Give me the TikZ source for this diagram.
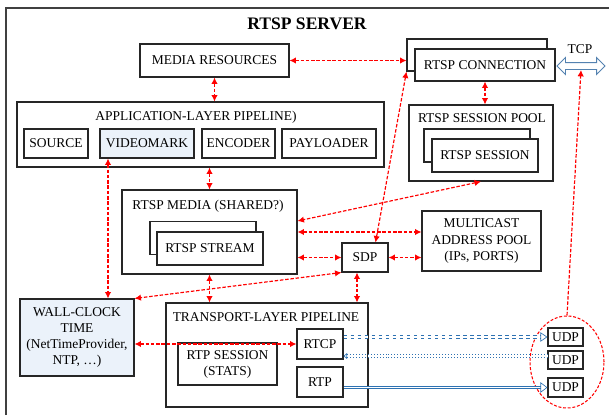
\documentclass[tikz,border=0pt]{standalone}
\usepackage{fontspec}
\setmainfont{Liberation Serif}
\usetikzlibrary{arrows.meta,shapes.geometric,shapes.arrows}
\definecolor{linkblue}{RGB}{46,114,178}
\definecolor{tcpblue}{RGB}{84,130,176}
\definecolor{paleblue}{RGB}{235,242,250}
\begin{document}
\begin{tikzpicture}[x=0.03cm,y=-0.03cm,
    font=\fontsize{11.5}{13.7}\selectfont,
    >={Latex[length=5.5pt,width=5.5pt]},
    box/.style={draw=black!85,line width=0.9pt,inner sep=0pt,align=center,fill=white},
    redlink/.style={red,line width=1pt,dash pattern=on 3pt off 1.5pt,<->},
    bluelink/.style={linkblue,line width=0.55pt,double=white,double distance=1.6pt}]
    \useasboundingbox (0,0) rectangle (609,415);
    \draw[black!75,line width=1.1pt] (6,415) |- (609,8);
    \node[font=\fontsize{15}{18}\selectfont\bfseries] (title) at (307,24) {RTSP SERVER};
    %
    \node[box,minimum width=4.47cm,minimum height=0.99cm] (mres) at (214.5,60.5) {MEDIA RESOURCES};
    \node[box,minimum width=4.2cm,minimum height=0.96cm] (connb) at (477,55) {};
    \node[box,minimum width=4.2cm,minimum height=0.96cm] (conn) at (485,65) {RTSP CONNECTION};
    \node (tcplabel) at (580,49) {TCP};
    \node[double arrow,draw=tcpblue,line width=0.8pt,inner sep=0.09cm,minimum height=1.44cm,
      double arrow head extend=0.15cm,double arrow tip angle=90] (tcp) at (581,66) {};
    %
    \node[box,minimum width=4.32cm,minimum height=2.28cm] (pool) at (481,143) {};
    \node (poollabel) at (482,118) {RTSP SESSION POOL};
    \node[box,minimum width=3.18cm,minimum height=0.99cm] (sessb) at (477,145.5) {};
    \node[box,minimum width=3.18cm,minimum height=0.99cm] (sess) at (485,155.5) {RTSP SESSION};
    %
    \node[box,minimum width=11.01cm,minimum height=1.95cm] (app) at (200.5,134.5) {};
    \node (applabel) at (196,117) {APPLICATION-LAYER PIPELINE)};
    \node[box,minimum width=1.92cm,minimum height=0.87cm] (source) at (56,143.5) {SOURCE};
    \node[box,fill=paleblue,minimum width=2.82cm,minimum height=0.87cm] (videomark) at (147,143.5) {VIDEOMARK};
    \node[box,minimum width=2.19cm,minimum height=0.87cm] (encoder) at (238.5,143.5) {ENCODER};
    \node[box,minimum width=2.82cm,minimum height=0.87cm] (payloader) at (329,143.5) {PAYLOADER};
    %
    \node[box,minimum width=5.25cm,minimum height=2.52cm] (media) at (209.5,232) {};
    \node (medialabel) at (208,206) {RTSP MEDIA (SHARED?)};
    \node[box,minimum width=3.18cm,minimum height=0.99cm] (streamb) at (203,238) {};
    \node[box,minimum width=3.18cm,minimum height=0.99cm] (stream) at (210,248.5) {RTSP STREAM};
    \node[box,minimum width=3.57cm,minimum height=1.8cm] (mcast) at (481.5,241) {MULTICAST\\ADDRESS POOL\\(IPs, PORTS)};
    \node[box,minimum width=1.38cm,minimum height=0.87cm] (sdp) at (365,257.5) {SDP};
    %
    \node[box,fill=paleblue,minimum width=3.42cm,minimum height=2.31cm] (clock) at (77,337.5) {WALL-CLOCK\\TIME\\(NetTimeProvider,\\NTP, \dots)};
    \node[box,minimum width=6.06cm,minimum height=3.12cm] (transport) at (267,355) {};
    \node (transportlabel) at (266,317) {TRANSPORT-LAYER PIPELINE};
    \node[box,minimum width=2.97cm,minimum height=1.26cm] (rtpsess) at (227.5,364) {RTP SESSION\\(STATS)};
    \node[box,minimum width=1.38cm,minimum height=0.9cm] (rtcp) at (320,344) {RTCP};
    \node[box,minimum width=1.38cm,minimum height=0.9cm] (rtp) at (320,382) {RTP};
    %
    \node[ellipse,draw=red,line width=0.9pt,dash pattern=on 2.5pt off 1.5pt,minimum width=2.22cm,minimum height=2.76cm] (udps) at (567,362) {};
    \foreach \i/\y/\h in {1/337/0.54,2/360/0.54,3/387.5/0.57}
      \node[box,minimum width=1.05cm,minimum height=\h cm] (udp\i) at (565.5,\y) {UDP};
    %
    \draw[redlink] (mres.east) -- (mres.east -| connb.west);
    \draw[redlink] (mres.south) -- (mres.south |- app.north);
    \draw[redlink] (conn.south) -- (conn.south |- pool.north);
    \draw[redlink] (media.north |- app.south) -- (media.north);
    \draw[redlink] (108,0 |- videomark.south) -- (108,0 |- clock.north);
    \draw[redlink] (pool.south) -- (0,221 -| media.east);
    \draw[redlink] (connb.south west) -- (sdp.55);
    \draw[redlink] (media.east) -- (media.east -| mcast.west);
    \draw[redlink] (sdp.west -| media.east) -- (sdp.west);
    \draw[redlink] (sdp.east) -- (sdp.east -| mcast.west);
    \draw[redlink] (sdp.south west) -- (clock.north east);
    \draw[redlink] (media.south) -- (media.south |- transport.north);
    \draw[redlink] (357,0 |- sdp.south) -- (357,0 |- transport.north);
    \draw[redlink] (clock.east |- rtcp.west) -- (rtcp.west);
    \draw[redlink,->] (udps.north) -- (tcp.south);
    %
    \draw[bluelink,dashed,-{Triangle[open,length=6pt,width=8pt]}] (rtcp.east |- udp1.west) -- (udp1.west);
    \draw[bluelink,dotted,-{Triangle[open,length=3pt,width=5pt]}] (0,356 -| udp2.west) -- (0,356 -| rtcp.east);
    \draw[bluelink,-{Triangle[open,length=6pt,width=9pt]}] (rtp.east |- udp3.west) -- (udp3.west);
\end{tikzpicture}
\end{document}
